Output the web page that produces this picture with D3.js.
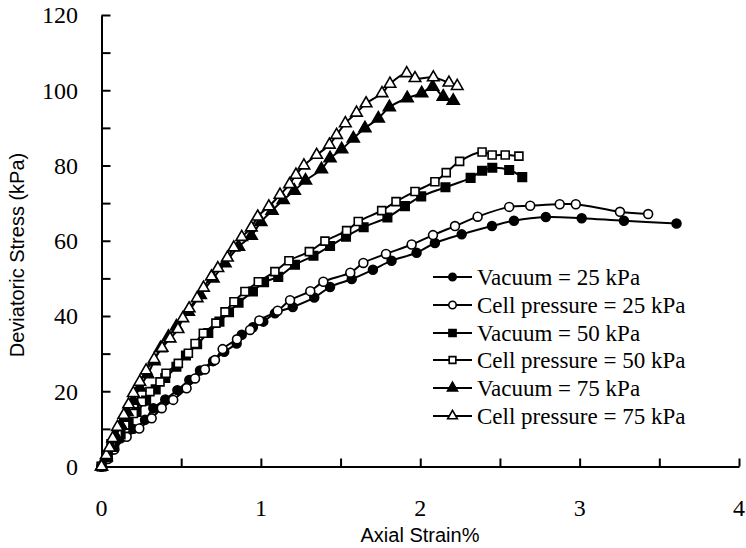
<!DOCTYPE html>
<html>
<head>
<meta charset="utf-8">
<title>deviatoric stress</title>
<script src="https://cdn.jsdelivr.net/npm/d3@7"></script>
<style>
  body { margin: 0; background: #fff; }
</style>
</head>
<body>
<div id="chart"></div>
<script>
// strain (%) / deviatoric stress (kPa)
var v25x = [0,0.03,0.07,0.12,0.2,0.273,0.325,0.4,0.476,0.551,0.618,0.7,0.77,0.848,0.88,0.95,1.015,1.088,1.2,1.335,1.434,1.57,1.703,1.82,1.977,2.092,2.26,2.45,2.588,2.788,3.013,3.278,3.608];
var v25y = [0,2,4.5,7.5,10,12.4,15.5,17.8,20.3,23,25.5,28,30.5,32.7,35,37,38.5,40.7,42.4,44.9,47.7,49.8,52.3,54.7,56.8,59.4,61.7,63.9,65.3,66.3,66,65.3,64.6];

var c25x = [0,0.04,0.08,0.158,0.237,0.315,0.378,0.45,0.534,0.587,0.649,0.712,0.76,0.85,0.932,0.99,1.105,1.183,1.31,1.392,1.561,1.643,1.785,1.946,2.08,2.218,2.36,2.558,2.69,2.875,2.976,3.253,3.43];
var c25y = [0,2,4.5,7.9,10.1,12.8,15.5,17.7,20.8,23.4,25.8,28.3,31.2,33.8,36.3,38.8,41.4,44.2,46.6,49.1,51.5,54.1,56.5,59,61.5,63.9,66.4,69,69.3,69.7,69.7,67.7,67.1];

var v50x = [0,0.04,0.08,0.12,0.17,0.22,0.28,0.34,0.4,0.47,0.53,0.6,0.67,0.74,0.8,0.86,0.95,1.02,1.109,1.214,1.33,1.434,1.534,1.645,1.794,1.904,2.006,2.158,2.316,2.388,2.452,2.558,2.64];
var v50y = [0,2.5,5.5,8.5,11.5,14.5,17.5,20.5,23.5,26.5,29.5,32.5,35.5,38.5,41,43.5,46.5,49,50.4,53.6,56,58.6,61.1,63.6,66.2,69.2,71.8,74.2,76.7,78.6,79.4,78.8,76.9];

var c50x = [0,0.03,0.06,0.1,0.147,0.2,0.252,0.304,0.367,0.405,0.482,0.545,0.587,0.639,0.718,0.775,0.831,0.9,0.984,1.088,1.176,1.304,1.402,1.538,1.611,1.758,1.848,1.967,2.092,2.163,2.247,2.388,2.451,2.533,2.619];
var c50y = [0,3,6,8.5,11,14.1,17.2,19.9,22.5,24.8,27.4,30.1,32.7,35.4,38.1,41.1,43.8,46.5,49.1,51.8,54.7,57.1,59.9,62.7,65.1,68,70.4,73.1,75.7,78.1,81.1,83.6,82.8,82.8,82.5];

var v75x = [0,0.03,0.06,0.09,0.12,0.16,0.2,0.24,0.29,0.33,0.37,0.42,0.47,0.545,0.62,0.7,0.775,0.86,0.94,1.0,1.07,1.14,1.21,1.28,1.38,1.434,1.507,1.58,1.653,1.737,1.806,1.918,2.009,2.078,2.144,2.207];
var v75y = [0,2.5,5,8,11,14.5,17.5,21,24.5,28,31.4,34.5,37.2,41.1,45.6,50,54,58.4,61.3,65,68,70.8,73.3,76,79,81.9,84.3,87.2,89.9,92.5,95.5,97.9,99.2,100.9,98.3,97.2];

var c75x = [0,0.03,0.05,0.07,0.1,0.14,0.17,0.2,0.24,0.28,0.33,0.38,0.43,0.48,0.51,0.55,0.6,0.64,0.69,0.73,0.79,0.83,0.88,0.94,0.98,1.05,1.12,1.18,1.22,1.27,1.35,1.43,1.475,1.53,1.6,1.66,1.76,1.81,1.915,1.967,2.082,2.18,2.232];
var c75y = [0,3,5,7.5,10.5,13.7,16.5,19.5,22.5,25.5,28.5,31.5,34,36.5,39.4,42,44.7,47.5,50.5,52.7,55.5,58.2,61,63.5,66.4,69.1,72.2,75,77.5,80,82.8,85.5,88.1,91.2,94,96.5,99.2,101.7,104.5,103.2,103.4,102,101.1];

var seriesNames = ["Vacuum = 25 kPa","Cell pressure = 25 kPa","Vacuum = 50 kPa","Cell pressure = 50 kPa","Vacuum = 75 kPa","Cell pressure = 75 kPa"];
var xTicks = [0,1,2,3,4];
var yTicks = [0,20,40,60,80,100,120];

var series = [
  {name: seriesNames[0], xs: v25x, ys: v25y, sym: d3.symbolCircle, size: 62, fill: "#000"},
  {name: seriesNames[1], xs: c25x, ys: c25y, sym: d3.symbolCircle, size: 62, fill: "#fff"},
  {name: seriesNames[2], xs: v50x, ys: v50y, sym: d3.symbolSquare, size: 72, fill: "#000"},
  {name: seriesNames[3], xs: c50x, ys: c50y, sym: d3.symbolSquare, size: 64, fill: "#fff"},
  {name: seriesNames[4], xs: v75x, ys: v75y, sym: d3.symbolTriangle, size: 62, fill: "#000"},
  {name: seriesNames[5], xs: c75x, ys: c75y, sym: d3.symbolTriangle, size: 58, fill: "#fff"}
];

var serif = "'Liberation Serif', 'Times New Roman', 'DejaVu Serif', serif";
var sans = "'Liberation Sans', Arial, sans-serif";

var W = 746, H = 548;
var svg = d3.select("#chart").append("svg").attr("width", W).attr("height", H);

var x = d3.scaleLinear().domain([0,4]).range([101.5,739]);
var y = d3.scaleLinear().domain([0,120]).range([466.5,15]);

// axes: ticks point inward, labels drawn separately
var xAxis = d3.axisTop(x).tickValues(d3.range(0,4.01,0.5)).tickSize(8).tickFormat("").tickSizeOuter(0);
var yAxis = d3.axisRight(y).tickValues(d3.range(0,121,10)).tickSize(9).tickFormat("").tickSizeOuter(0);

svg.append("g").attr("transform","translate(0,"+y(0)+")").call(xAxis);
svg.append("g").attr("transform","translate("+x(0)+",0)").call(yAxis);
svg.selectAll(".domain, .tick line").attr("stroke","#000").attr("stroke-width",2);

svg.selectAll(".xlab").data(xTicks).enter().append("text")
  .style("font-family", serif).style("font-size","24px")
  .attr("text-anchor","middle")
  .attr("x", d => x(d)).attr("y", 516).text(d => d);

svg.selectAll(".ylab").data(yTicks).enter().append("text")
  .style("font-family", serif).style("font-size","24px")
  .attr("text-anchor","end")
  .attr("x", 78).attr("y", d => y(d)).attr("dy","0.35em").text(d => d);

svg.append("text").style("font-family", sans).style("font-size","20px")
  .attr("text-anchor","middle")
  .attr("x", 420).attr("y", 542).text("Axial Strain%");

svg.append("text").style("font-family", sans).style("font-size","20px")
  .attr("text-anchor","middle")
  .attr("transform","translate(24,255) rotate(-90)").text("Deviatoric Stress (kPa)");

var line = d3.line().x(d => x(d[0])).y(d => y(d[1])).curve(d3.curveCatmullRom.alpha(0.5));

series.forEach(function(s){
  var pts = s.xs.map((v,i) => [v, s.ys[i]]);
  svg.append("path").datum(pts)
    .attr("d", line).attr("fill","none").attr("stroke","#000").attr("stroke-width",2);
  svg.append("g").selectAll("path").data(pts).enter().append("path")
    .attr("transform", d => "translate("+x(d[0])+","+y(d[1])+")")
    .attr("d", d3.symbol().type(s.sym).size(s.size))
    .attr("fill", s.fill).attr("stroke","#000").attr("stroke-width",1.6);
});

// legend
var legY = [277,305,333,360,388,416];
var leg = svg.append("g");
series.forEach(function(s,i){
  var g = leg.append("g").attr("transform","translate(0,"+legY[i]+")");
  g.append("line").attr("x1",433).attr("x2",472).attr("y1",0).attr("y2",0)
    .attr("stroke","#000").attr("stroke-width",2);
  g.append("path").attr("transform","translate(452.5,0)")
    .attr("d", d3.symbol().type(s.sym).size(s.size*0.7))
    .attr("fill", s.fill).attr("stroke","#000").attr("stroke-width",1.6);
  g.append("text").style("font-family", serif).style("font-size","23px")
    .attr("x",477).attr("dy","0.33em").text(s.name);
});
</script>
</body>
</html>
